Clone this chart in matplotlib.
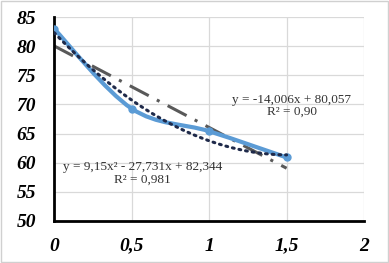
import numpy as np
import matplotlib.pyplot as plt
from matplotlib.path import Path
from matplotlib.patches import PathPatch, Rectangle
from matplotlib.font_manager import FontProperties

# measured points
x_vals = [0, 0.5, 1, 1.5]
y_vals = [83.0, 69.3, 65.4, 60.9]

# trendline coefficients as printed on the chart
lin_coef = [-14.006, 80.057]
poly_coef = [9.15, -27.731, 82.344]

x_ticks = [0, 0.5, 1, 1.5, 2]
x_tick_labels = ['0', '0,5', '1', '1,5', '2']
y_ticks = [50, 55, 60, 65, 70, 75, 80, 85]

BLUE = '#5b9bd5'

plt.rcParams['font.family'] = 'Liberation Serif'


def smooth_path(xs, ys, t=1 / 6):
    # Excel-like smoothed line: Catmull-Rom -> cubic bezier segments
    pts = np.column_stack([xs, ys]).astype(float)
    verts = [pts[0]]
    codes = [Path.MOVETO]
    n = len(pts)
    for i in range(n - 1):
        p0 = pts[max(i - 1, 0)]
        p1 = pts[i]
        p2 = pts[i + 1]
        p3 = pts[min(i + 2, n - 1)]
        c1 = p1 + (p2 - p0) * t
        c2 = p2 - (p3 - p1) * t
        verts += [c1, c2, p2]
        codes += [Path.CURVE4] * 3
    return Path(verts, codes)


fig = plt.figure(figsize=(3.89, 2.63), dpi=100)
fig.patches.append(Rectangle((0.003, 0.004), 0.994, 0.992, transform=fig.transFigure,
                             fill=False, edgecolor='#d0d0d0', linewidth=1))
ax = fig.add_axes([0.139, 0.160, 0.797, 0.775])

ax.set_xlim(0, 2)
ax.set_ylim(50, 85)
ax.grid(True, color='#d9d9d9', linewidth=0.9)
ax.set_axisbelow(True)
for s in ['top', 'right']:
    ax.spines[s].set_visible(False)
for s in ['left', 'bottom']:
    ax.spines[s].set_linewidth(2)
    ax.spines[s].set_color('black')
ax.tick_params(length=0)
ax.tick_params(axis='y', pad=13)
ax.tick_params(axis='x', pad=12)

# tick labels last, so nothing resets their font
tick_font = FontProperties(family='Liberation Serif', style='italic',
                           weight='bold', size=14)
ax.set_xticks(x_ticks)
ax.set_xticklabels(x_tick_labels, fontproperties=tick_font)
ax.set_yticks(y_ticks)
ax.set_yticklabels([str(v) for v in y_ticks], fontproperties=tick_font)

# data series
ax.add_patch(PathPatch(smooth_path(x_vals, y_vals), facecolor='none',
                       edgecolor=BLUE, linewidth=3, zorder=3))
ax.plot(x_vals, y_vals, 'o', color=BLUE, markersize=5, zorder=4)

# trendlines
xt = np.linspace(0, 1.5, 100)
ax.plot(xt, np.polyval(lin_coef, xt), color='#595959', linewidth=2.2,
        dashes=(7, 3, 1, 3), zorder=2)
ax.plot(xt, np.polyval(poly_coef, xt), color='#1f2a4a', linewidth=2.2,
        linestyle=(0, (0.6, 1.6)), dash_capstyle='round', zorder=5)

tfont = dict(fontsize=9.5, color='#333333', ha='center', va='center')
ax.text(1.534, 70.8, 'y = -14,006x + 80,057', **tfont)
ax.text(1.534, 68.7, 'R² = 0,90', **tfont)
ax.text(0.572, 59.3, 'y = 9,15x² - 27,731x + 82,344', **tfont)
ax.text(0.572, 57.0, 'R² = 0,981', **tfont)

fig.savefig('out.png', dpi=100)
